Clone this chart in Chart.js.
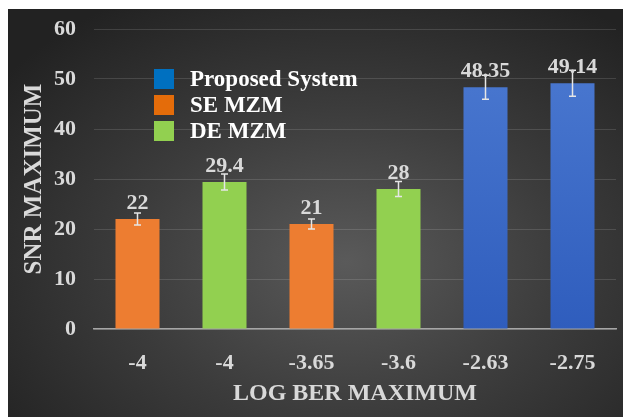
<!DOCTYPE html>
<html lang="en">
<head>
    <meta charset="UTF-8">
    <title>SNR vs Log BER</title>
    <script src="https://cdn.jsdelivr.net/npm/chart.js"></script>
    <style>
        body { margin: 0; background: #fff; }
        .panel {
            position: absolute; left: 8px; top: 9px; width: 615px; height: 408px;
            background: radial-gradient(ellipse 70% 75% at 55% 62%, #5a5a5a 0%, #3c3c3c 50%, #222 100%);
        }
        #snrChart { position: absolute; left: 8px; top: 0; }
    </style>
</head>
<body>
    <div class="panel"></div>
    <canvas id="snrChart" width="615" height="417"></canvas>
    <script>
        // values
        const categories = ['-4', '-4', '-3.65', '-3.6', '-2.63', '-2.75'];
        const snrValues = [22, 29.4, 21, 28, 48.35, 49.14];
        const errorMargins = [1.2, 1.6, 1.0, 1.5, 2.4, 2.6];
        const barGroups = ['SE MZM', 'DE MZM', 'SE MZM', 'DE MZM', 'Proposed System', 'Proposed System'];
        const legendLabels = ['Proposed System', 'SE MZM', 'DE MZM'];
        const valueLabels = ['22', '29.4', '21', '28', '48.35', '49.14'];

        const serif = "'Liberation Serif', 'Times New Roman', serif";
        const legendColors = { 'Proposed System': '#0070C0', 'SE MZM': '#E46C0A', 'DE MZM': '#92D050' };

        function barColor(ctx) {
            const group = barGroups[ctx.dataIndex];
            if (group === 'SE MZM') return '#ED7D31';
            if (group === 'DE MZM') return '#92D050';
            const area = ctx.chart.chartArea;
            if (!area) return '#4472C4';
            const g = ctx.chart.ctx.createLinearGradient(0, area.top, 0, area.bottom);
            g.addColorStop(0, '#4d7bd2');
            g.addColorStop(1, '#2f5dbd');
            return g;
        }

        const extras = {
            id: 'extras',
            afterDatasetsDraw(chart) {
                const ctx = chart.ctx;
                const y = chart.scales.y;
                const bars = chart.getDatasetMeta(0).data;
                ctx.save();
                // error bars
                ctx.strokeStyle = '#e6e6e6';
                ctx.lineWidth = 1.5;
                bars.forEach((bar, i) => {
                    const top = y.getPixelForValue(snrValues[i] + errorMargins[i]);
                    const bot = y.getPixelForValue(snrValues[i] - errorMargins[i]);
                    ctx.beginPath();
                    ctx.moveTo(bar.x, top); ctx.lineTo(bar.x, bot);
                    ctx.moveTo(bar.x - 3.5, top); ctx.lineTo(bar.x + 3.5, top);
                    ctx.moveTo(bar.x - 3.5, bot); ctx.lineTo(bar.x + 3.5, bot);
                    ctx.stroke();
                });
                // value labels
                ctx.fillStyle = '#d9d9d9';
                ctx.font = 'bold 22px ' + serif;
                ctx.textAlign = 'center';
                ctx.textBaseline = 'alphabetic';
                bars.forEach((bar, i) => {
                    ctx.fillText(valueLabels[i], bar.x, bar.y - 10);
                });
                // legend inside plot
                const area = chart.chartArea;
                ctx.font = 'bold 23px ' + serif;
                ctx.textAlign = 'left';
                ctx.textBaseline = 'middle';
                legendLabels.forEach((label, i) => {
                    const cy = area.top + 50 + i * 26;
                    ctx.fillStyle = legendColors[label];
                    ctx.fillRect(area.left + 60, cy - 10, 20, 20);
                    ctx.fillStyle = '#ffffff';
                    ctx.fillText(label, area.left + 96, cy + 1);
                });
                ctx.restore();
            }
        };

        new Chart(document.getElementById('snrChart'), {
            type: 'bar',
            data: {
                labels: categories,
                datasets: [{
                    data: snrValues,
                    backgroundColor: barColor,
                    barPercentage: 0.506,
                    categoryPercentage: 1
                }]
            },
            options: {
                responsive: false,
                animation: false,
                layout: { padding: { top: 12, right: 7 } },
                plugins: { legend: { display: false }, tooltip: { enabled: false } },
                scales: {
                    x: {
                        afterFit(scale) { scale.height = 88; },
                        grid: { display: false },
                        border: { color: '#a6a6a6', width: 1.5 },
                        ticks: { color: '#d9d9d9', padding: 13, font: { family: serif, size: 22, weight: 'bold' } },
                        title: {
                            display: true, text: 'LOG BER MAXIMUM', color: '#d9d9d9',
                            padding: { top: 0, bottom: 9 },
                            font: { family: serif, size: 24, weight: 'bold' }
                        }
                    },
                    y: {
                        min: 0, max: 60,
                        afterFit(scale) { scale.width = 86; },
                        grid: { color: 'rgba(255,255,255,0.13)', drawTicks: false },
                        border: { display: false },
                        ticks: { stepSize: 10, color: '#d9d9d9', padding: 18, font: { family: serif, size: 22, weight: 'bold', lineHeight: 1 } },
                        title: {
                            display: true, text: 'SNR MAXIMUM', color: '#d9d9d9',
                            padding: { top: 12, bottom: 0 },
                            font: { family: serif, size: 25, weight: 'bold' }
                        }
                    }
                }
            },
            plugins: [extras]
        });
    </script>
</body>
</html>
